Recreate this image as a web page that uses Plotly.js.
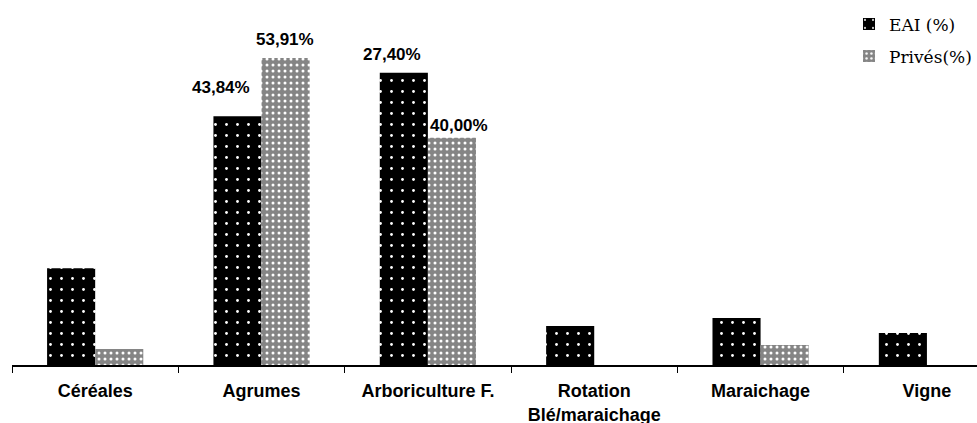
<!DOCTYPE html>
<html>
<head>
<meta charset="utf-8">
<script src="https://cdn.plot.ly/plotly-3.0.1.min.js"></script>
<style>html,body{margin:0;padding:0;background:#fff;}</style>
</head>
<body>
<div id="chart" style="width:977px;height:423px;"></div>
<script>
const categories = ["Céréales", "Agrumes", "Arboriculture F.", "Rotation<br>Blé/maraichage", "Maraichage", "Vigne"];
const eaiValues = [17.0, 43.7, 51.3, 6.85, 8.25, 5.6];
const privesValues = [2.8, 53.91, 39.9, 0, 3.5, 0];
const eaiLabels = ["", "43,84%", "27,40%", "", "", ""];
const privesLabels = ["", "53,91%", "40,00%", "", "", ""];
const eaiLabelShift = [[0,0],[-41,29],[-36,18],[0,0],[0,0],[0,0]];
const privesLabelShift = [[0,0],[23.5,18],[31,12],[0,0],[0,0],[0,0]];

const traces = [
  {
    type: "bar", name: "EAI (%)", x: categories, y: eaiValues, legendgroup: "a",
    marker: {color: "#000000", line: {width: 0},
      pattern: {shape: ".", fgcolor: "#ffffff", bgcolor: "#000000", size: 11, solidity: 0.05}},
    hoverinfo: "skip"
  },
  {
    type: "bar", name: "Privés(%)", x: categories, y: privesValues, legendgroup: "b",
    marker: {color: "#8a8a8a", line: {width: 0},
      pattern: {shape: ".", fgcolor: "#ffffff", bgcolor: "#858585", size: 6, solidity: 0.2}},
    hoverinfo: "skip"
  }
];

const annotations = [];
function addLabels(labels, values, shifts) {
  labels.forEach((t, i) => {
    if (!t) return;
    annotations.push({
      x: categories[i], y: values[i], xref: "x", yref: "y", text: t, showarrow: false,
      xshift: shifts[i][0], yshift: shifts[i][1], yanchor: "middle", xanchor: "center",
      font: {family: "Liberation Sans, Arial, sans-serif", size: 17, color: "#000", weight: "bold"}
    });
  });
}
addLabels(eaiLabels, eaiValues, eaiLabelShift);
addLabels(privesLabels, privesValues, privesLabelShift);

const layout = {
  width: 977, height: 423,
  margin: {l: 12, r: 0, t: 20, b: 58, autoexpand: false},
  paper_bgcolor: "#ffffff", plot_bgcolor: "#ffffff",
  barmode: "group", bargap: 0.4217, bargroupgap: 0,
  showlegend: true,
  legend: {
    x: 1, xanchor: "right", y: 0.985, yanchor: "top", xref: "container", yref: "container",
    font: {family: "DejaVu Serif, serif", size: 17, color: "#000"},
    bgcolor: "rgba(0,0,0,0)", itemwidth: 30, tracegroupgap: 7, traceorder: "grouped"
  },
  xaxis: {
    type: "category", range: [-0.5, 5.301], tickson: "boundaries",
    ticks: "outside", ticklen: 6, tickcolor: "#000", tickwidth: 1,
    showline: true, linecolor: "#000", linewidth: 1.5,
    showgrid: false, zeroline: false, fixedrange: true, ticklabelstandoff: 9,
    tickfont: {family: "Liberation Sans, Arial, sans-serif", size: 18, color: "#000", weight: "bold"}
  },
  yaxis: {
    range: [0, 60.58], visible: false, showgrid: false, zeroline: false, fixedrange: true
  },
  annotations: annotations
};

Plotly.newPlot("chart", traces, layout, {displayModeBar: false, staticPlot: true});
</script>
</body>
</html>
